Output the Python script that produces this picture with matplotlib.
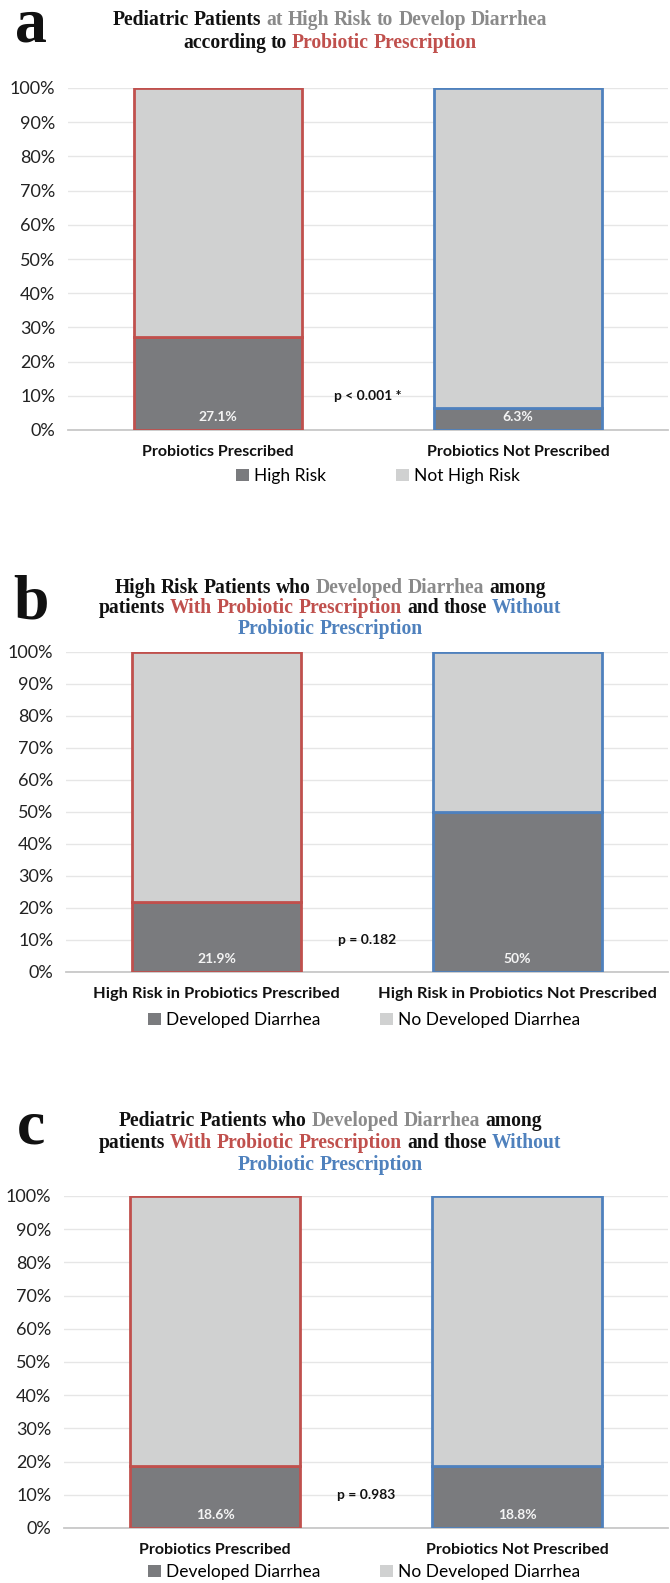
import matplotlib
matplotlib.use("Agg")
import matplotlib.pyplot as plt
from matplotlib.patches import Patch

# ---------------- data ----------------
cats_a = ["Probiotics Prescribed", "Probiotics Not Prescribed"]
cats_b = ["High Risk in Probiotics Prescribed", "High Risk in Probiotics Not Prescribed"]
cats_c = ["Probiotics Prescribed", "Probiotics Not Prescribed"]

dark_a = [27.1, 6.3]
dark_b = [21.9, 50.0]
dark_c = [18.6, 18.8]

labels_a = ["27.1%", "6.3%"]
labels_b = ["21.9%", "50%"]
labels_c = ["18.6%", "18.8%"]

legend_a = ["High Risk", "Not High Risk"]
legend_bc = ["Developed Diarrhea", "No Developed Diarrhea"]

pvals = ["p < 0.001 *", "p = 0.182", "p = 0.983"]
yticks = [0, 10, 20, 30, 40, 50, 60, 70, 80, 90, 100]

# ---------------- style ----------------
DARK = "#7a7b7e"
LIGHT = "#d0d1d1"
RED = "#c0504d"
BLUE = "#4f81bd"
GREYT = "#8a8a8a"
BLACK = "#111111"
SANS = ["Lato", "DejaVu Sans"]
SERIF = ["Liberation Serif", "DejaVu Serif"]

W, H = 670, 1583
fig = plt.figure(figsize=(W / 100, H / 100), dpi=100)
fig.patch.set_facecolor("white")


def fx(x):
    return x / W


def fy(y):
    return 1 - y / H


def make_axes(left, right, top, bottom):
    return fig.add_axes([fx(left), fy(bottom), (right - left) / W, (bottom - top) / H])


def draw_panel(ax, cats, dark, labels, pval, legend_labels, leg_center, leg_y, colspace, cat_fs):
    light = [100 - d for d in dark]
    xs = list(range(len(cats)))
    edges = [RED, BLUE]
    width = 0.56
    ax.bar(xs, dark, width=width, color=DARK, edgecolor=edges, linewidth=2.0, zorder=3)
    ax.bar(xs, light, width=width, bottom=dark, color=LIGHT, edgecolor=edges, linewidth=2.0, zorder=3)
    ax.set_xlim(-0.5, 1.5)
    ax.set_ylim(0, 100)
    ax.set_yticks(yticks)
    ax.set_yticklabels([f"{v}%" for v in yticks], fontsize=13, family=SANS, color="#222222")
    ax.set_xticks(xs)
    ax.set_xticklabels(cats, fontsize=cat_fs, fontweight="bold", family=SANS, color=BLACK)
    ax.tick_params(length=0, pad=9, axis="y")
    ax.tick_params(length=0, pad=11, axis="x")
    for s in ["top", "right", "left"]:
        ax.spines[s].set_visible(False)
    ax.spines["bottom"].set_color("#c8c8c8")
    ax.spines["bottom"].set_linewidth(1.3)
    ax.grid(axis="y", color="#e6e6e6", linewidth=1.0, zorder=0)
    ax.set_axisbelow(True)
    for x, lab in zip(xs, labels):
        ax.annotate(lab, xy=(x, 0), xytext=(0, 9.5), textcoords="offset points",
                    ha="center", va="center", color="#f4f4f4", fontsize=10,
                    fontweight="bold", family=SANS, zorder=5)
    ax.text(0.5, 10, pval, ha="center", va="center", fontsize=10, fontweight="bold",
            family=SANS, color=BLACK, zorder=5)
    handles = [Patch(facecolor=DARK, edgecolor="none"), Patch(facecolor=LIGHT, edgecolor="none")]
    fig.legend(handles, legend_labels, loc="center", bbox_to_anchor=(fx(leg_center), fy(leg_y)),
               ncol=2, frameon=False, prop={"family": SANS, "size": 12.5},
               handlelength=0.75, handleheight=0.75, handletextpad=0.3, columnspacing=colspace)


fig.canvas.draw()
renderer = fig.canvas.get_renderer()
TITLE_FS = 14.1


def text_width(s, fs, family, weight):
    t = fig.text(0, 0, s, fontsize=fs, family=family, fontweight=weight)
    w = t.get_window_extent(renderer).width
    t.remove()
    return w


SPACE_W = text_width("a a", TITLE_FS, SERIF, "bold") - text_width("aa", TITLE_FS, SERIF, "bold")


def colored_line(y, pieces, cx=330):
    words = []
    for s, c in pieces:
        for w in s.split():
            words.append((w, c))
    widths = [text_width(w, TITLE_FS, SERIF, "bold") for w, _ in words]
    total = sum(widths) + SPACE_W * (len(words) - 1)
    x = cx - total / 2
    for (w, c), wd in zip(words, widths):
        fig.text(fx(x), fy(y), w, color=c, fontsize=TITLE_FS, family=SERIF,
                 fontweight="bold", ha="left", va="center")
        x += wd + SPACE_W


def panel_letter(s, baseline_y):
    fig.text(fx(31), fy(baseline_y), s, fontsize=46, fontweight="bold", family=SERIF,
             ha="center", va="baseline", color=BLACK)


# ---------------- panel a ----------------
ax_a = make_axes(68, 668, 88, 430)
draw_panel(ax_a, cats_a, dark_a, labels_a, pvals[0], legend_a, 378, 476, 4.0, 11.5)
panel_letter("a", 42)
colored_line(20, [("Pediatric Patients", BLACK), ("at High Risk to Develop Diarrhea", GREYT)])
colored_line(43, [("according to", BLACK), ("Probiotic Prescription", RED)])

# ---------------- panel b ----------------
ax_b = make_axes(66, 668, 652, 972)
draw_panel(ax_b, cats_b, dark_b, labels_b, pvals[1], legend_bc, 364, 1020, 3.4, 11.8)
panel_letter("b", 618)
colored_line(588, [("High Risk Patients who", BLACK), ("Developed Diarrhea", GREYT), ("among", BLACK)])
colored_line(608, [("patients", BLACK), ("With Probiotic Prescription", RED), ("and those", BLACK), ("Without", BLUE)])
colored_line(629, [("Probiotic Prescription", BLUE)])

# ---------------- panel c ----------------
ax_c = make_axes(64, 668, 1196, 1528)
draw_panel(ax_c, cats_c, dark_c, labels_c, pvals[2], legend_bc, 364, 1572, 3.4, 11.5)
panel_letter("c", 1144)
colored_line(1121, [("Pediatric Patients who", BLACK), ("Developed Diarrhea", GREYT), ("among", BLACK)])
colored_line(1143, [("patients", BLACK), ("With Probiotic Prescription", RED), ("and those", BLACK), ("Without", BLUE)])
colored_line(1165, [("Probiotic Prescription", BLUE)])

fig.savefig("out.png", dpi=100, facecolor="white")
